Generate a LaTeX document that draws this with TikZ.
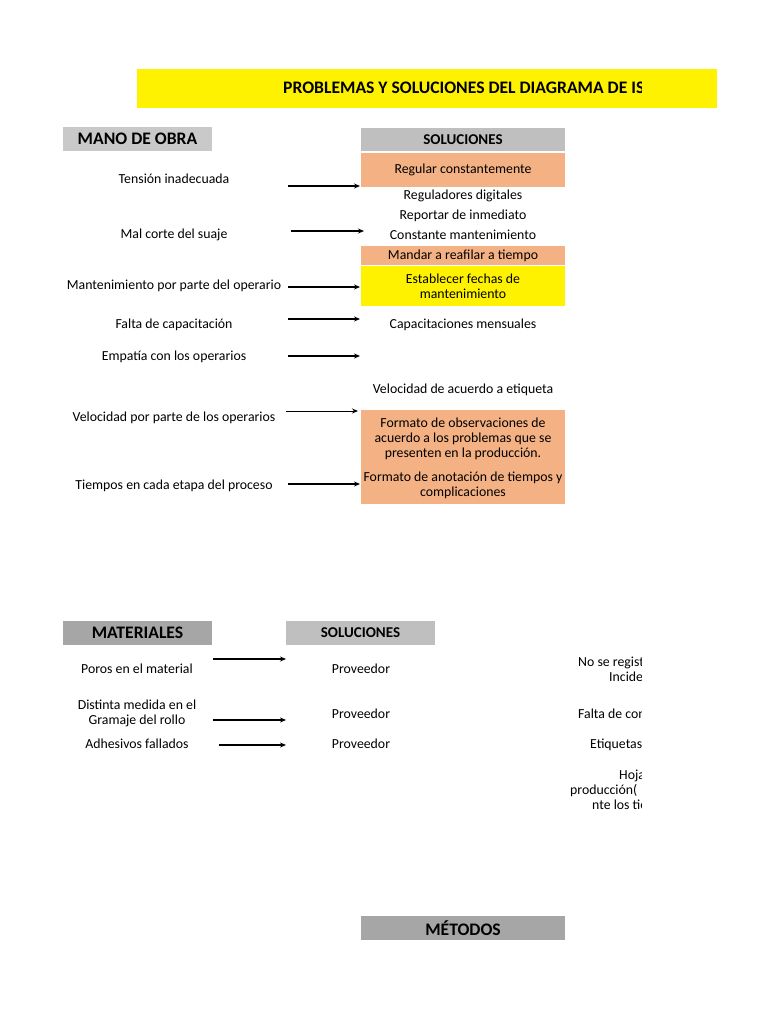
\documentclass[tikz,border=0pt]{standalone}
\usepackage{fontspec}
\setmainfont{Carlito}
\usetikzlibrary{arrows.meta}

\definecolor{salmon}{HTML}{F4B183}
\definecolor{lightgrey}{HTML}{C9C9C9}
\definecolor{midgrey}{HTML}{BFBFBF}
\definecolor{darkgrey}{HTML}{A6A6A6}

\tikzset{
  txt/.style={inner sep=0pt, align=center, yshift=-1pt, font=\fontsize{13.8}{15}\selectfont},
  hdr/.style={inner sep=0pt, font=\bfseries\fontsize{17.6}{19}\selectfont},
  sol/.style={inner sep=0pt, font=\bfseries\fontsize{15}{17}\selectfont},
  solbox/.style={minimum width=204, minimum height=#1, inner sep=0pt},
  arr/.style={-{Stealth[length=6pt,width=5pt]}, line width=1.4pt},
}

\begin{document}
\begin{tikzpicture}[x=1pt,y=-1pt]
  \useasboundingbox[fill=white] (0,0) rectangle (768,1024);

  % Title band (text cut off at the sheet edge)
  \fill[yellow] (137,69) rectangle (717,108);
  \begin{scope}
    \clip (0,0) rectangle (641,1024);
    \node[anchor=west, inner sep=0pt, font=\bfseries\fontsize{17.6}{19}\selectfont] (title) at (283,88) {PROBLEMAS Y SOLUCIONES DEL DIAGRAMA DE ISHIKAWA};
  \end{scope}

  % Mano de obra: headers
  \node[hdr, fill=lightgrey, minimum width=149, minimum height=24] (mano) at (137.5,139) {MANO DE OBRA};
  \node[sol, fill=midgrey, solbox=23] (sol1) at (463,139.5) {SOLUCIONES};

  % Mano de obra: solutions
  \node[txt, fill=salmon, solbox=34] (s1) at (463,169) {Regular constantemente};
  \node[txt] (s2) at (463,195) {Reguladores digitales};
  \node[txt] (s3) at (463,215) {Reportar de inmediato};
  \node[txt] (s4) at (463,234) {Constante mantenimiento};
  \node[txt, fill=salmon, solbox=19] (s5) at (463,254.5) {Mandar a reafilar a tiempo};
  \node[txt, fill=yellow, solbox=40] (s6) at (463,285) {Establecer fechas de\\mantenimiento};
  \node[txt] (s7) at (463,324) {Capacitaciones mensuales};
  \node[txt] (s8) at (463,389) {Velocidad de acuerdo a etiqueta};
  \node[fill=salmon, solbox=94] (fmt) at (463,457) {};
  \node[txt] (s9) at (463,437.5) {Formato de observaciones de\\acuerdo a los problemas que se\\presenten en la producción.};
  \node[txt] (s10) at (463,484.5) {Formato de anotación de tiempos y\\complicaciones};

  % Mano de obra: problems
  \node[txt] (p1) at (174,178) {Tensión inadecuada};
  \node[txt] (p2) at (174,234) {Mal corte del suaje};
  \node[txt] (p3) at (174,285) {Mantenimiento por parte del operario};
  \node[txt] (p4) at (174,324) {Falta de capacitación};
  \node[txt] (p5) at (174,356) {Empatía con los operarios};
  \node[txt] (p6) at (174,417) {Velocidad por parte de los operarios};
  \node[txt] (p7) at (174,485) {Tiempos en cada etapa del proceso};

  % Arrow ends
  \coordinate (a1) at (288,186); \coordinate (b1) at (360,186);
  \coordinate (a2) at (291,231); \coordinate (b2) at (364,231);
  \coordinate (a3) at (288,287); \coordinate (b3) at (360,287);
  \coordinate (a4) at (288,319); \coordinate (b4) at (360,319);
  \coordinate (a5) at (288,356); \coordinate (b5) at (360,356);
  \coordinate (a6) at (286,411); \coordinate (b6) at (358,411);
  \coordinate (a7) at (288,484); \coordinate (b7) at (360,484);
  \foreach \i in {1,2,3,4,5,7} {\draw[arr] (a\i) -- (b\i);}
  \draw[arr, line width=0.9pt] (a6) -- (b6);

  % Materiales
  \node[hdr, fill=darkgrey, minimum width=149, minimum height=24] (mat) at (137.5,633) {MATERIALES};
  \node[sol, fill=midgrey, minimum width=149, minimum height=24] (sol2) at (360.5,633) {SOLUCIONES};
  \node[txt] (m1) at (137,668) {Poros en el material};
  \node[txt] (m2) at (137,712.5) {Distinta medida en el\\Gramaje del rollo};
  \node[txt] (m3) at (137,743) {Adhesivos fallados};
  \node[txt] (r1) at (361,668) {Proveedor};
  \node[txt] (r2) at (361,713) {Proveedor};
  \node[txt] (r3) at (361,743) {Proveedor};
  \coordinate (c1) at (213,659); \coordinate (d1) at (286,659);
  \coordinate (c2) at (213,720); \coordinate (d2) at (286,720);
  \coordinate (c3) at (219,745); \coordinate (d3) at (286,745);
  \foreach \i in {1,2,3} {\draw[arr] (c\i) -- (d\i);}

  % Right column, cut off at the sheet edge
  \begin{scope}
    \clip (0,0) rectangle (641,1024);
    \node[txt, anchor=west] (q1) at (578,662) {No se registran};
    \node[txt, anchor=west] (q2) at (609,676) {Incidencias};
    \node[txt, anchor=west] (q3) at (578,713) {Falta de control};
    \node[txt, anchor=west] (q4) at (590,744) {Etiquetas};
    \node[txt, anchor=west] (q5) at (619,775) {Hojas};
    \node[txt, anchor=west] (q6) at (570,790) {producción(};
    \node[txt, anchor=west] (q7) at (592,805) {nte los tiempos};
  \end{scope}

  % Metodos
  \node[hdr, fill=darkgrey, solbox=24] (met) at (463,928) {MÉTODOS};
\end{tikzpicture}
\end{document}
